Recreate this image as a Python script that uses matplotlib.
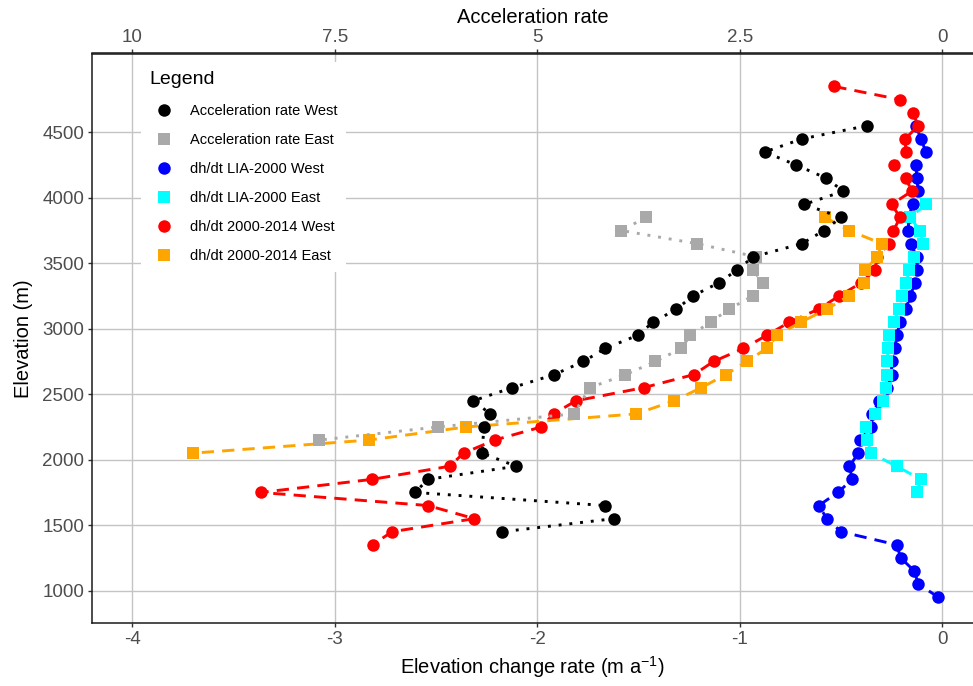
import matplotlib
matplotlib.use("Agg")
import matplotlib.pyplot as plt
from matplotlib.lines import Line2D

plt.rcParams['font.family'] = ['Liberation Sans', 'DejaVu Sans']
plt.rcParams['axes.unicode_minus'] = False
plt.rcParams['mathtext.default'] = 'regular'

# acceleration rate, west (black) / east (grey) -- elevation (m) and rate
acc_west_elev = [4550, 4450, 4350, 4250, 4150, 4050, 3950, 3850, 3750, 3650, 3550, 3450,
                 3350, 3250, 3150, 3050, 2950, 2850, 2750, 2650, 2550, 2450, 2350, 2250,
                 2050, 1950, 1850, 1750, 1650, 1550, 1450]
acc_west = [0.93, 1.73, 2.19, 1.80, 1.43, 1.22, 1.70, 1.25, 1.46, 1.73, 2.33, 2.53,
            2.76, 3.08, 3.28, 3.57, 3.76, 4.16, 4.43, 4.79, 5.31, 5.79, 5.58, 5.66,
            5.68, 5.26, 6.35, 6.51, 4.16, 4.05, 5.43]

acc_east_elev = [3850, 3750, 3650, 3550, 3450, 3350, 3250, 3150, 3050, 2950, 2850, 2750,
                 2650, 2550, 2350, 2250, 2150]
acc_east = [3.66, 3.96, 3.03, 2.30, 2.34, 2.21, 2.34, 2.63, 2.86, 3.11, 3.22, 3.54,
            3.91, 4.35, 4.55, 6.23, 7.69]

# dh/dt LIA-2000
lia_west_elev = [4550, 4450, 4350, 4250, 4150, 4050, 3950, 3850, 3750, 3650, 3550, 3450,
                 3350, 3250, 3150, 3050, 2950, 2850, 2750, 2650, 2550, 2450, 2350, 2250,
                 2150, 2050, 1950, 1850, 1750, 1650, 1550, 1450, 1350, 1250, 1150, 1050, 950]
lia_west = [-0.128, -0.105, -0.079, -0.128, -0.125, -0.117, -0.145, -0.165, -0.166, -0.155,
            -0.125, -0.122, -0.133, -0.158, -0.178, -0.207, -0.224, -0.232, -0.249, -0.249,
            -0.270, -0.310, -0.344, -0.350, -0.405, -0.413, -0.458, -0.443, -0.515, -0.609,
            -0.569, -0.499, -0.224, -0.204, -0.137, -0.117, -0.018]

lia_east_elev = [3950, 3850, 3750, 3650, 3550, 3450, 3350, 3250, 3150, 3050, 2950, 2850,
                 2750, 2650, 2550, 2450, 2350, 2250, 2150, 2050, 1950, 1850, 1750]
lia_east = [-0.079, -0.158, -0.109, -0.092, -0.137, -0.161, -0.178, -0.199, -0.215, -0.237,
            -0.260, -0.265, -0.272, -0.273, -0.277, -0.293, -0.331, -0.375, -0.369, -0.352,
            -0.224, -0.105, -0.122]

# dh/dt 2000-2014
rec_west_elev = [4850, 4750, 4650, 4550, 4450, 4350, 4250, 4150, 4050, 3950, 3850, 3750,
                 3650, 3550, 3450, 3350, 3250, 3150, 3050, 2950, 2850, 2750, 2650, 2550,
                 2450, 2350, 2250, 2150, 2050, 1950, 1850, 1750, 1650, 1550, 1450, 1350]
rec_west = [-0.532, -0.207, -0.145, -0.117, -0.183, -0.178, -0.237, -0.178, -0.150, -0.249,
            -0.207, -0.240, -0.260, -0.320, -0.331, -0.400, -0.509, -0.610, -0.754, -0.866,
            -0.981, -1.129, -1.226, -1.475, -1.809, -1.919, -1.980, -2.211, -2.364, -2.433,
            -2.816, -3.366, -2.540, -2.311, -2.718, -2.813]

rec_east_elev = [3850, 3750, 3650, 3550, 3450, 3350, 3250, 3150, 3050, 2950, 2850, 2750,
                 2650, 2550, 2450, 2350, 2250, 2150, 2050]
rec_east = [-0.578, -0.458, -0.298, -0.319, -0.380, -0.388, -0.462, -0.569, -0.698, -0.813,
            -0.866, -0.965, -1.068, -1.190, -1.323, -1.511, -2.351, -2.833, -3.702]

x_ticks = [-4, -3, -2, -1, 0]
y_ticks = [1000, 1500, 2000, 2500, 3000, 3500, 4000, 4500]
top_ticks = [10, 7.5, 5, 2.5, 0]
top_labels = ['10', '7.5', '5', '2.5', '0']


def acc_to_dhdt(a):
    return -a / 2.5


def dhdt_to_acc(x):
    return -2.5 * x


W, H = 973, 686
fig = plt.figure(figsize=(W / 100, H / 100), dpi=100)
ax = fig.add_axes([92 / W, (H - 623) / H, (W - 92) / W, (623 - 53.5) / H])

dashed = (0, (4.2, 2.8))
dotted = (0, (1, 2.7))
lw = 2.1

series = [
    (lia_west, lia_west_elev, '#0000ff', 'o', dashed, 'dh/dt LIA-2000 West'),
    (lia_east, lia_east_elev, '#00ffff', 's', dashed, 'dh/dt LIA-2000 East'),
    (rec_west, rec_west_elev, '#ff0000', 'o', dashed, 'dh/dt 2000-2014 West'),
    (rec_east, rec_east_elev, '#ffa500', 's', dashed, 'dh/dt 2000-2014 East'),
    ([acc_to_dhdt(a) for a in acc_east], acc_east_elev, '#a9a9a9', 's', dotted, 'Acceleration rate East'),
    ([acc_to_dhdt(a) for a in acc_west], acc_west_elev, '#000000', 'o', dotted, 'Acceleration rate West'),
]

for z, (xs, ys, col, mk, ls, lab) in enumerate(series):
    ax.plot(xs, ys, color=col, linestyle=ls, linewidth=lw, zorder=3 + z * 2)
    ax.plot(xs, ys, color=col, linestyle='none', marker=mk,
            markersize=9 if mk == 'o' else 8.5, markeredgewidth=0, zorder=4 + z * 2)

ax.set_xlim(-4.2, 0.153)
ax.set_ylim(753, 5102)
ax.set_xticks(x_ticks)
ax.set_yticks(y_ticks)
ax.grid(True, color='#c4c4c4', linewidth=1.0, zorder=0)
ax.set_axisbelow(True)

for s in ['left', 'bottom', 'top']:
    ax.spines[s].set_color('#1a1a1a')
    ax.spines[s].set_linewidth(1.1)
ax.spines['right'].set_visible(False)

ax.tick_params(axis='both', length=3, width=1, color='#333333',
               labelsize=13.5, labelcolor='#4d4d4d', pad=2.5)
ax.set_xlabel('Elevation change rate (m a$^{-1}$)', fontsize=14.5, labelpad=5)
ax.set_ylabel('Elevation (m)', fontsize=14.5, labelpad=7)

sec = ax.secondary_xaxis('top', functions=(dhdt_to_acc, acc_to_dhdt))
sec.set_xticks(top_ticks)
sec.set_xticklabels(top_labels)
sec.tick_params(length=3, width=1, color='#333333', labelsize=13.5,
                labelcolor='#4d4d4d', pad=2.5)
sec.spines['top'].set_color('#1a1a1a')
sec.spines['top'].set_linewidth(1.1)
sec.set_xlabel('Acceleration rate', fontsize=14.5, labelpad=4)

# legend with marker-only keys, in the reference order
order = [5, 4, 0, 1, 2, 3]
handles = []
for i in order:
    xs, ys, col, mk, ls, lab = series[i]
    handles.append(Line2D([], [], color=col, marker=mk, linestyle='none',
                          markersize=9 if mk == 'o' else 8.5, markeredgewidth=0, label=lab))
leg = ax.legend(handles=handles, title='Legend', loc='upper left',
                bbox_to_anchor=((141 - 92) / (W - 92), (623 - 62) / (623 - 53.5)),
                borderaxespad=0, frameon=True, fontsize=10.5, title_fontsize=14,
                alignment='left', handlelength=2.0, handletextpad=0.75,
                labelspacing=1.03, borderpad=0.6, fancybox=False)
leg._legend_box.sep = 11.5
leg.get_frame().set_facecolor('white')
leg.get_frame().set_edgecolor('none')
leg.get_frame().set_alpha(1)
leg.set_zorder(20)

fig.savefig('out.png', dpi=100)
